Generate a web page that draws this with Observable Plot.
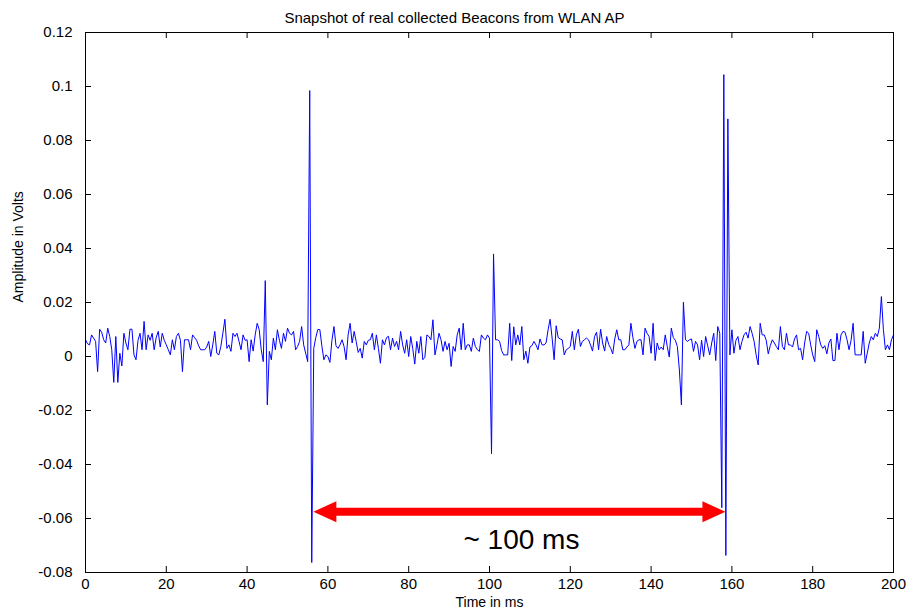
<!DOCTYPE html>
<html>
<head>
<meta charset="utf-8">
<script src="https://cdn.jsdelivr.net/npm/d3@7"></script>
<script src="https://cdn.jsdelivr.net/npm/@observablehq/plot@0.6"></script>
<style>
  html, body { margin: 0; padding: 0; background: #ffffff; }
  #chart svg { display: block; }
</style>
</head>
<body>
<div id="chart"></div>
<script>
// ---- Text ----
const titleText = "Snapshot of real collected Beacons from WLAN AP";
const xLabelText = "Time in ms";
const yLabelText = "Amplitude in Volts";
const annotationText = "~ 100 ms";

// ---- Axis ticks ----
const xTicks = [0, 20, 40, 60, 80, 100, 120, 140, 160, 180, 200];
const yTicks = [-0.08, -0.06, -0.04, -0.02, 0, 0.02, 0.04, 0.06, 0.08, 0.1, 0.12];

// ---- Sampled signal (volts), one sample every 0.5 ms ----
const sampleStepMs = 0.5;
const amp_0_26 = [0.0062,0.0047,0.0043,0.0080,0.0068,0.0056,-0.0056,0.0101,0.0090,0.0062,
  0.0050,0.0105,0.0074,0.0025,-0.0096,0.0074,-0.0096,0.0012,-0.0035,0.0086,
  0.0050,0.0025,0.0101,0.0101,0.0006,-0.0012,0.0060,0.0086,0.0025,0.0130,
  0.0025,0.0080,0.0060,0.0086,0.0025,0.0070,0.0093,0.0035,0.0086,0.0060,
  0.0043,0.0025,0.0006,0.0062,0.0025,0.0074,0.0086,0.0060,-0.0056,0.0062,
  0.0062,0.0062,0.0025];
const amp_26_50 = [0.0080,0.0070,0.0060,0.0040,0.0025,0.0025,0.0025,0.0035,0.0056,0.0000,
  0.0043,0.0093,0.0012,0.0006,0.0037,0.0086,0.0138,0.0030,0.0043,0.0019,
  0.0086,0.0074,0.0086,0.0056,0.0025,0.0080,0.0060,0.0062,-0.0019,0.0062,
  0.0020,0.0080,0.0123,0.0099,0.0025,-0.0019,0.0281,-0.0179,0.0019,-0.0012,
  0.0068,0.0025,0.0099,0.0060,0.0030,0.0086,0.0056,0.0105,0.0086];
const amp_51_75 = [0.0080,0.0093,0.0025,0.0037,0.0056,0.0111,0.0043,0.0012,-0.0019,0.0985,
  -0.0763,0.0030,0.0070,0.0100,0.0100,0.0040,-0.0012,0.0006,0.0000,-0.0022,
  0.0060,0.0111,0.0040,0.0030,0.0043,0.0062,0.0037,-0.0012,0.0080,0.0123,
  0.0050,0.0093,0.0056,0.0015,0.0030,-0.0006,0.0056,0.0043,0.0060,0.0062,
  0.0086,0.0025,0.0080,0.0030,-0.0025,0.0062,0.0043,0.0070,0.0075,0.0025];
const amp_76_100 = [0.0068,0.0037,0.0056,0.0025,0.0093,0.0043,0.0012,0.0062,0.0000,0.0074,
  0.0030,-0.0028,0.0056,0.0012,0.0074,-0.0012,-0.0003,0.0080,0.0074,0.0062,
  0.0136,0.0006,0.0043,0.0086,0.0062,0.0019,0.0056,0.0025,0.0049,-0.0037,
  0.0037,0.0019,0.0080,0.0105,0.0025,0.0123,0.0025,0.0043,0.0043,0.0019,
  0.0068,0.0037,0.0025,0.0019,0.0080,0.0068,0.0062,0.0080,0.0068];
const amp_100_125 = [-0.0360,0.0380,0.0062,0.0062,0.0056,0.0022,0.0006,0.0006,0.0006,0.0123,
  -0.0015,0.0110,0.0043,0.0080,0.0043,0.0111,-0.0012,0.0020,-0.0025,0.0035,
  0.0040,0.0056,0.0043,0.0025,0.0065,0.0043,0.0043,0.0050,0.0099,0.0138,
  0.0068,-0.0012,0.0114,0.0070,0.0065,0.0062,0.0006,0.0025,0.0030,0.0037,
  0.0093,0.0025,0.0080,0.0101,0.0037,0.0056,0.0062,0.0068,0.0062,0.0043];
const amp_125_150 = [0.0020,0.0074,0.0090,0.0025,0.0101,0.0050,0.0020,0.0074,0.0045,0.0030,
  0.0010,0.0065,0.0099,0.0062,0.0062,0.0025,0.0025,0.0035,0.0043,0.0123,
  0.0070,0.0030,0.0056,0.0062,0.0062,0.0006,0.0105,0.0086,0.0074,0.0012,
  0.0123,-0.0015,0.0050,0.0025,0.0035,0.0025,0.0080,0.0037,-0.0002,0.0105,
  0.0070,0.0060,0.0037,-0.0050,-0.0179,0.0201,0.0062,0.0056,0.0062];
const amp_150_175 = [0.0065,0.0019,0.0056,0.0043,-0.0012,0.0060,0.0000,0.0074,0.0040,0.0006,
  0.0050,0.0086,-0.0015,0.0111,0.0086,-0.0560,0.1044,-0.0737,0.0880,0.0006,
  0.0099,0.0012,0.0060,0.0074,0.0025,0.0056,0.0080,0.0090,0.0068,0.0111,
  0.0086,0.0056,0.0006,-0.0031,0.0123,0.0080,0.0080,0.0060,0.0010,0.0040,
  0.0062,0.0050,0.0037,0.0025,0.0111,0.0037,0.0025,0.0086,0.0043,0.0043];
const amp_175_200 = [0.0035,0.0065,0.0080,0.0025,0.0030,-0.0012,0.0050,0.0093,0.0086,0.0043,
  0.0006,-0.0019,0.0099,0.0074,0.0043,0.0030,0.0040,0.0010,0.0050,0.0065,
  -0.0015,-0.0015,0.0086,0.0025,0.0080,0.0093,0.0090,0.0062,0.0025,0.0060,
  0.0123,0.0006,0.0006,0.0006,0.0006,0.0093,-0.0025,0.0012,0.0050,0.0074,
  0.0062,0.0086,0.0074,0.0105,0.0222,0.0099,0.0025,0.0043,0.0025,0.0062,
  0.0080];

// ---- Annotation (double arrow between the two beacons) ----
const arrowTipsMs = [56.4, 158.4];
const arrowLevel = -0.0575;
const annotationAt = { t: 107.9, v: -0.0678 };

// ---- Build table ----
const amplitude = [...amp_0_26, ...amp_26_50, ...amp_51_75, ...amp_76_100,
  ...amp_100_125, ...amp_125_150, ...amp_150_175, ...amp_175_200];
const samples = amplitude.map((v, i) => ({ t: i * sampleStepMs, v }));

const fmtY = d => String(+d.toFixed(2));
const arrowHead = {
  draw(context) {
    context.moveTo(0, 0);
    context.lineTo(23, -10.5);
    context.lineTo(23, 10.5);
    context.closePath();
  }
};

const W = 909, H = 614, ML = 85, MR = 16, MT = 32, MB = 42;
const frameW = W - ML - MR, frameH = H - MT - MB, tickLen = 6;

const chart = Plot.plot({
  width: W,
  height: H,
  marginLeft: ML,
  marginRight: MR,
  marginTop: MT,
  marginBottom: MB,
  style: { fontFamily: "'Liberation Sans', Arial, Helvetica, sans-serif", background: "#ffffff", color: "#000" },
  x: { domain: [0, 200] },
  y: { domain: [-0.08, 0.12] },
  marks: [
    Plot.line(samples, { x: "t", y: "v", stroke: "#0000ff", strokeWidth: 1 }),
    Plot.frame({ stroke: "#000", strokeWidth: 1 }),
    // inward ticks on all four sides
    Plot.tickX(xTicks, { x: d => d, insetTop: frameH - tickLen, stroke: "#000" }),
    Plot.tickX(xTicks, { x: d => d, insetBottom: frameH - tickLen, stroke: "#000" }),
    Plot.tickY(yTicks, { y: d => d, insetRight: frameW - tickLen, stroke: "#000" }),
    Plot.tickY(yTicks, { y: d => d, insetLeft: frameW - tickLen, stroke: "#000" }),
    Plot.axisX({ ticks: xTicks, anchor: "bottom", tickSize: 0, tickPadding: 6, fontSize: 15, label: null, tickFormat: d => String(d) }),
    Plot.axisY({ ticks: yTicks, anchor: "left", tickSize: 0, tickPadding: 13, fontSize: 15, label: null, tickFormat: fmtY }),
    Plot.text([xLabelText], { frameAnchor: "bottom", dy: 34, fontSize: 14, fill: "#000" }),
    Plot.text([yLabelText], { frameAnchor: "left", dx: -67, rotate: -90, fontSize: 14, fill: "#000" }),
    Plot.text([titleText], { frameAnchor: "top", dy: -20, dx: -35, fontSize: 15, fill: "#000" }),
    // red double arrow
    Plot.arrow([arrowTipsMs], {
      x1: d => d[0], x2: d => d[1], y1: () => arrowLevel, y2: () => arrowLevel,
      stroke: "#ff0000", strokeWidth: 8, headLength: 0, insetStart: 20, insetEnd: 20, strokeLinecap: "butt"
    }),
    Plot.dot([arrowTipsMs[0]], { x: d => d, y: () => arrowLevel, symbol: arrowHead, fill: "#ff0000", stroke: null, rotate: 0 }),
    Plot.dot([arrowTipsMs[1]], { x: d => d, y: () => arrowLevel, symbol: arrowHead, fill: "#ff0000", stroke: null, rotate: 180 }),
    Plot.text([annotationText], { x: () => annotationAt.t, y: () => annotationAt.v, fontSize: 28, fill: "#000" })
  ]
});
document.getElementById("chart").appendChild(chart);
</script>
</body>
</html>
